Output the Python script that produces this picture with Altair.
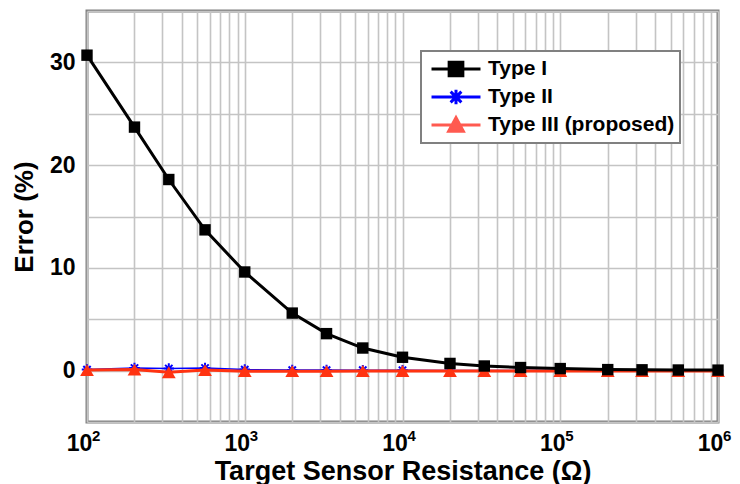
import altair as alt
import pandas as pd

# ---- data ----
resistance = [100, 200, 330, 560, 1000, 2000, 3300, 5600, 10000, 20000, 33000,
              56000, 100000, 200000, 330000, 560000, 1000000]
type1 = [30.7, 23.7, 18.6, 13.7, 9.6, 5.6, 3.6, 2.2, 1.3, 0.7, 0.45, 0.3, 0.2,
         0.1, 0.08, 0.06, 0.05]
type2 = [0.1, 0.25, 0.2, 0.25, 0.1, 0.05, 0.05, 0.04, 0.03, 0.02, 0.02, 0.01,
         0.01, 0.01, 0.01, 0.01, 0.01]
type3 = [0.05, 0.1, -0.15, 0.05, -0.05, -0.05, -0.05, -0.04, -0.04, -0.04, -0.04,
         -0.04, -0.04, -0.04, -0.04, -0.04, -0.04]

series_names = ["Type I", "Type II", "Type III (proposed)"]
series_colors = ["#000000", "#0000ff", "#ff3311"]
legend_colors = ["#000000", "#0000ff", "#ff5a50"]

x_major = [100, 1000, 10000, 100000, 1000000]
x_major_base = "10"
x_major_exponents = ["2", "3", "4", "5", "6"]
y_grid = [-5, 0, 5, 10, 15, 20, 25, 30, 35]
y_labels = ["", "0", "", "10", "", "20", "", "30", ""]

x_title = "Target Sensor Resistance (Ω)"
y_title = "Error (%)"

# ---- build tables ----
rows = []
for name, vals in zip(series_names, [type1, type2, type3]):
    for r, v in zip(resistance, vals):
        rows.append({"R": r, "err": v, "series": name})
df = pd.DataFrame(rows)
exp_df = pd.DataFrame({"R": x_major, "exp": x_major_exponents})

x_grid = [m * k for m in x_major[:-1] for k in range(1, 10)] + [x_major[-1]]

x_label_expr = f"indexof({x_major}, datum.value) >= 0 ? '{x_major_base}' : ''"
y_label_expr = f"{y_labels}[indexof({y_grid}, datum.value)]"

FONT = "Liberation Sans"

x_scale = alt.Scale(type="log", domain=[100, 1000000], nice=False)
y_scale = alt.Scale(domain=[-5, 35], nice=False, zero=False)

x_enc = alt.X(
    "R:Q",
    scale=x_scale,
    axis=alt.Axis(
        values=x_grid, labelExpr=x_label_expr, ticks=False, domain=False,
        grid=True, gridColor="#c4c4c4", gridWidth=1.6,
        labelFont=FONT, labelFontSize=23, labelFontWeight="bold",
        labelColor="black", labelPadding=10, labelOffset=-8,
        labelFlush=False, labelOverlap=False,
        titleFont=FONT, titleFontSize=27, titleFontWeight="bold",
        titleColor="black", titlePadding=3,
    ),
    title=x_title,
)
y_enc = alt.Y(
    "err:Q",
    scale=y_scale,
    axis=alt.Axis(
        values=y_grid, labelExpr=y_label_expr, ticks=False, domain=False,
        grid=True, gridColor="#c4c4c4", gridWidth=1.6,
        labelFont=FONT, labelFontSize=23, labelFontWeight="bold",
        labelColor="black", labelPadding=12, labelFlush=False, labelOverlap=False,
        titleFont=FONT, titleFontSize=26, titleFontWeight="bold",
        titleColor="black", titlePadding=12,
    ),
    title=y_title,
)

asterisk = "M-1,0L1,0M0,-1L0,1M-0.7,-0.7L0.7,0.7M-0.7,0.7L0.7,-0.7"
legend_paths = [
    "M-1,0L1,0M-0.28,-0.28L0.28,-0.28L0.28,0.28L-0.28,0.28Z",
    "M-1,0L1,0M0,-0.3L0,0.3M-0.22,-0.22L0.22,0.22M-0.22,0.22L0.22,-0.22",
    "M-1,0L1,0M-0.3,0.26L0.3,0.26L0,-0.3Z",
]

layers = []
order = [1, 2, 0]  # draw Type II, Type III, then Type I on top
styles = {
    0: dict(line_w=3, point=dict(shape="square", filled=True, size=130)),
    1: dict(line_w=1.5, point=dict(shape=asterisk, filled=False, size=110, strokeWidth=2)),
    2: dict(line_w=3, point=dict(shape="triangle-up", filled=True, size=190)),
}
for i in order:
    name = series_names[i]
    base = alt.Chart(df).transform_filter(alt.datum.series == name)
    st = styles[i]
    layers.append(
        base.mark_line(color=series_colors[i], strokeWidth=st["line_w"]).encode(x=x_enc, y=y_enc)
    )
    layers.append(
        base.mark_point(color=series_colors[i], opacity=1, **st["point"]).encode(x=x_enc, y=y_enc)
    )

# exponents of the decade labels
exp_layer = (
    alt.Chart(exp_df)
    .mark_text(font=FONT, fontSize=15, fontWeight="bold", color="black",
               align="left", baseline="top", dx=5, dy=7)
    .encode(x=alt.X("R:Q", scale=x_scale), y=alt.datum(-5), text="exp:N")
)
layers.append(exp_layer)

leg = alt.Legend(
    title=None, orient="none", legendX=334, legendY=40,
    labelFont=FONT, labelFontSize=21, labelFontWeight="bold", labelColor="black",
    labelLimit=400,
    symbolSize=2400, symbolStrokeWidth=3, clipHeight=26, rowPadding=2, labelOffset=6,
    symbolOffset=4, padding=5, strokeColor="#808080", fillColor="white",
)
legend_layer = (
    alt.Chart(df)
    .transform_filter("datum.err > 1000")
    .mark_point(filled=True, opacity=1)
    .encode(
        x=x_enc, y=y_enc,
        shape=alt.Shape("series:N", scale=alt.Scale(domain=series_names, range=legend_paths), legend=leg),
        fill=alt.Fill("series:N", scale=alt.Scale(domain=series_names, range=legend_colors), legend=leg),
        stroke=alt.Stroke("series:N", scale=alt.Scale(domain=series_names, range=legend_colors), legend=leg),
    )
)
layers.append(legend_layer)

chart = (
    alt.layer(*layers)
    .properties(
        width=631, height=411,
        autosize=alt.AutoSizeParams(type="none"),
        padding={"left": 79, "top": 3, "right": 14, "bottom": 62},
        background="white",
    )
    .configure_view(stroke="#808080", strokeWidth=3)
    .configure_legend(strokeWidth=2)
)

chart.save("out.html", embed_options={"renderer": "svg", "actions": False})
